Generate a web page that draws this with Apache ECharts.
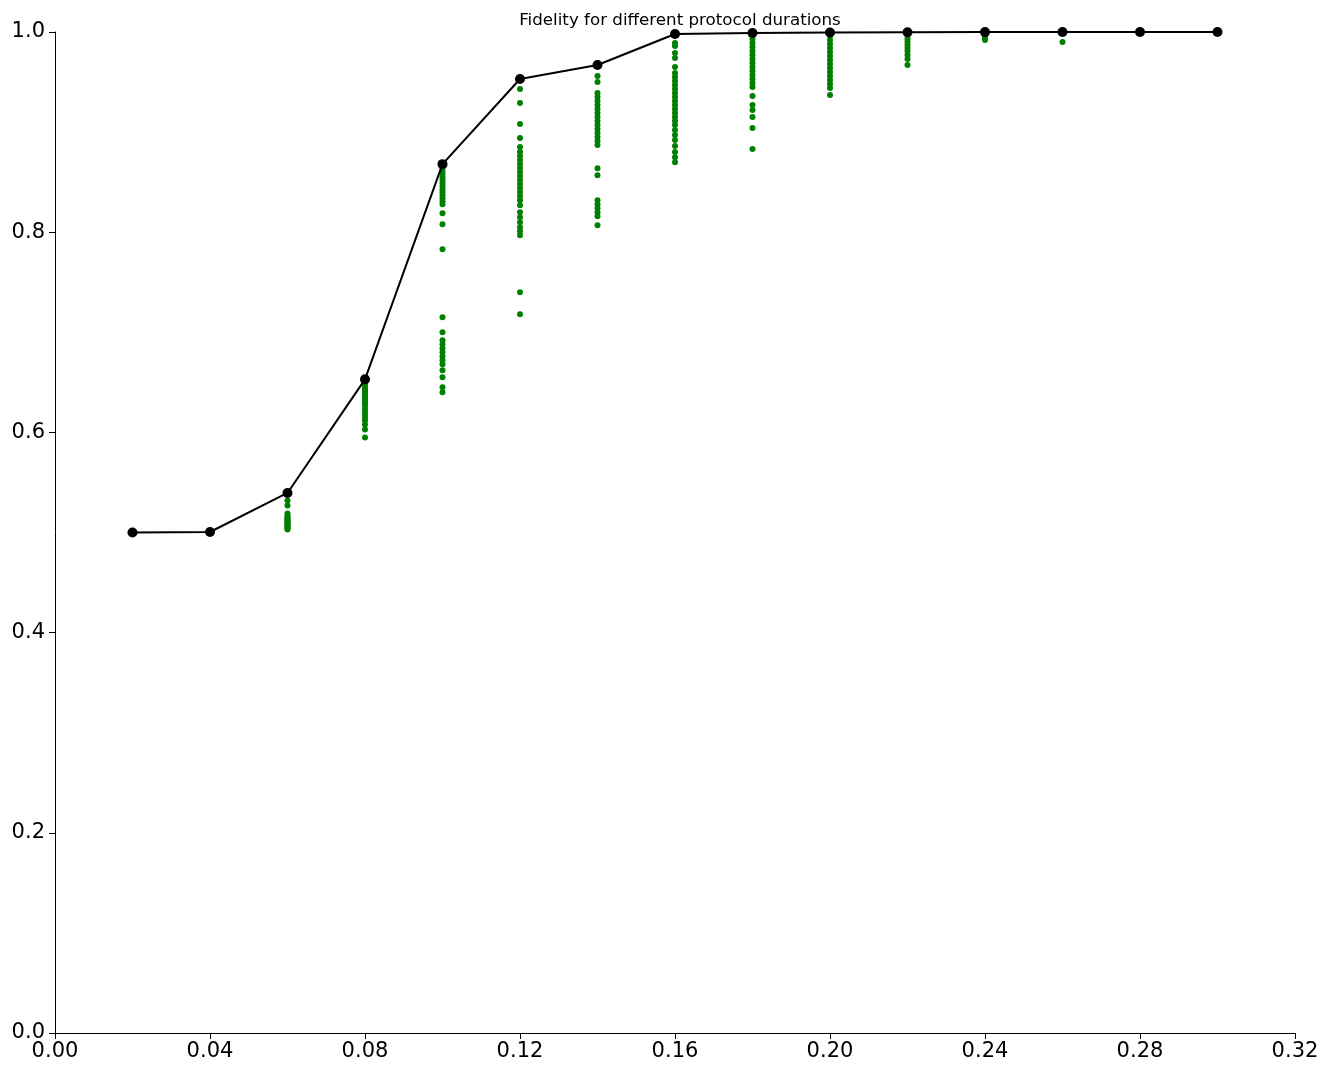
<!DOCTYPE html>
<html>
<head>
<meta charset="utf-8">
<script src="https://cdn.jsdelivr.net/npm/echarts@6/dist/echarts.min.js"></script>
<style>
  html, body { margin: 0; padding: 0; background: #fff; }
  #chart { width: 1329px; height: 1073px; }
</style>
</head>
<body>
<div id="chart"></div>
<script>
// protocol durations and best fidelity per duration
var durations = [0.02, 0.04, 0.06, 0.08, 0.10, 0.12, 0.14, 0.16, 0.18, 0.20, 0.22, 0.24, 0.26, 0.28, 0.30]
var bestFidelity = [0.500, 0.5005, 0.5395, 0.653, 0.868, 0.953, 0.967, 0.998, 0.999, 0.9995, 0.9998, 0.9999, 1.0, 1.0, 1.0]

// individual runs for each duration
var runs006 = [0.532, 0.527, 0.519, 0.517, 0.515, 0.514, 0.513, 0.512, 0.511, 0.510, 0.509, 0.508, 0.507, 0.506, 0.505, 0.504, 0.503]
var runs008 = [0.648, 0.645, 0.643, 0.641, 0.639, 0.637, 0.635, 0.633, 0.631, 0.629, 0.627, 0.624, 0.621, 0.618, 0.615, 0.612, 0.608, 0.603, 0.595]
var runs010 = [0.864, 0.861, 0.858, 0.855, 0.852, 0.849, 0.846, 0.843, 0.840, 0.837, 0.834, 0.831, 0.828, 0.819, 0.808, 0.783, 0.715, 0.700, 0.692, 0.688, 0.684, 0.680, 0.676, 0.672, 0.668, 0.662, 0.655, 0.645, 0.640]
var runs012 = [0.943, 0.929, 0.908, 0.894, 0.885, 0.880, 0.876, 0.872, 0.868, 0.864, 0.860, 0.856, 0.852, 0.848, 0.844, 0.840, 0.836, 0.832, 0.827, 0.820, 0.815, 0.810, 0.805, 0.801, 0.797, 0.740, 0.718]
var runs014 = [0.956, 0.950, 0.939, 0.935, 0.931, 0.927, 0.923, 0.919, 0.915, 0.911, 0.907, 0.903, 0.899, 0.895, 0.891, 0.887, 0.864, 0.857, 0.832, 0.828, 0.824, 0.820, 0.816, 0.807]
var runs016 = [0.989, 0.986, 0.979, 0.974, 0.965, 0.959, 0.955, 0.951, 0.947, 0.943, 0.939, 0.935, 0.931, 0.927, 0.923, 0.919, 0.915, 0.911, 0.907, 0.902, 0.897, 0.892, 0.886, 0.880, 0.875, 0.870]
var runs018 = [0.993, 0.989, 0.985, 0.981, 0.977, 0.973, 0.969, 0.965, 0.961, 0.957, 0.953, 0.949, 0.945, 0.936, 0.927, 0.922, 0.915, 0.904, 0.883]
var runs020 = [0.996, 0.992, 0.988, 0.984, 0.980, 0.976, 0.972, 0.968, 0.964, 0.960, 0.956, 0.952, 0.948, 0.944, 0.937]
var runs022 = [0.996, 0.993, 0.990, 0.987, 0.984, 0.981, 0.977, 0.973, 0.967]
var runs024 = [0.996, 0.994, 0.992]
var runs026 = [0.990]

var runGroups = [
  [0.06, runs006], [0.08, runs008], [0.10, runs010], [0.12, runs012],
  [0.14, runs014], [0.16, runs016], [0.18, runs018], [0.20, runs020],
  [0.22, runs022], [0.24, runs024], [0.26, runs026]
]

var scatterData = []
runGroups.forEach(function (g) {
  g[1].forEach(function (v) {
    scatterData.push([g[0], v])
  })
})
var lineData = durations.map(function (d, i) {
  return [d, bestFidelity[i]]
})

var font = 'DejaVu Sans'
var chart = echarts.init(document.getElementById('chart'))
var options = {
  animation: false,
  title: {
    text: 'Fidelity for different protocol durations',
    left: 675,
    top: 7,
    textAlign: 'center',
    textStyle: { fontFamily: font, fontSize: 16.7, fontWeight: 'normal', color: '#000' }
  },
  grid: { left: 55, right: 34, top: 32, bottom: 40, containLabel: false },
  xAxis: {
    type: 'value',
    min: 0,
    max: 0.32,
    interval: 0.04,
    axisLine: { show: true, onZero: false, lineStyle: { color: '#000', width: 1 } },
    axisTick: { show: true, length: 6, lineStyle: { color: '#000' } },
    axisLabel: {
      fontFamily: font, fontSize: 21, color: '#000', margin: 8,
      formatter: function (v) { return v.toFixed(2) }
    },
    splitLine: { show: false }
  },
  yAxis: {
    type: 'value',
    min: 0,
    max: 1,
    interval: 0.2,
    axisLine: { show: true, onZero: false, lineStyle: { color: '#000', width: 1 } },
    axisTick: { show: true, length: 6, lineStyle: { color: '#000' } },
    axisLabel: {
      fontFamily: font, fontSize: 21, color: '#000', margin: 10,
      formatter: function (v) { return v.toFixed(1) }
    },
    splitLine: { show: false }
  },
  series: [
    {
      type: 'scatter',
      data: scatterData,
      symbolSize: 6,
      itemStyle: { color: '#008000', opacity: 1 },
      z: 2
    },
    {
      type: 'line',
      data: lineData,
      symbol: 'circle',
      symbolSize: 10,
      showSymbol: true,
      lineStyle: { color: '#000', width: 2 },
      itemStyle: { color: '#000' },
      z: 3
    }
  ]
}
chart.setOption(options, true)
</script>
</body>
</html>
